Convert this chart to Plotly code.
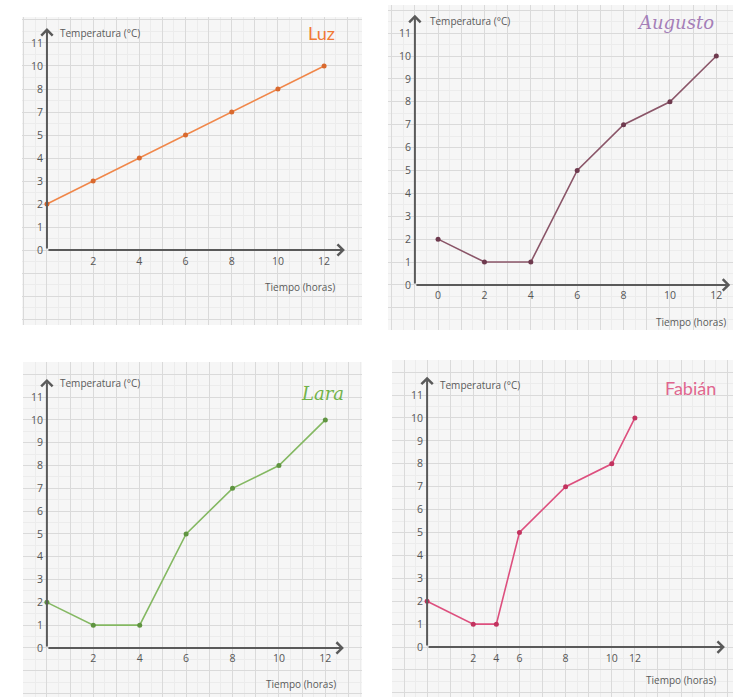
import plotly.graph_objects as go

# ---------------- data ----------------
horas = [0, 2, 4, 6, 8, 10, 12]
luz_temp = ["2", "3", "4", "5", "7", "8", "10"]
luz_y_labels = ["0", "1", "2", "3", "4", "5", "7", "8", "10", "11"]
augusto_temp = [2, 1, 1, 5, 7, 8, 10]
lara_temp = [2, 1, 1, 5, 7, 8, 10]
fabian_horas = ["0", "2", "4", "6", "8", "10", "12"]
fabian_temp = [2, 1, 1, 5, 7, 8, 10]
fabian_x_labels = ["0", " ", "2", "4", "6", "  ", "8", "   ", "10", "12"]
y_ticks = list(range(0, 12))
x_ticks = [2, 4, 6, 8, 10, 12]
augusto_x_ticks = [0, 2, 4, 6, 8, 10, 12]

W, H = 738, 698
GRID = "#dadada"
MINOR = "#ececec"
AXIS = "#5a5a5a"
TICKFONT = dict(family="Open Sans", size=10.5, color="#555555")
LABELFONT = dict(family="Open Sans", size=10, color="#5a5a5a")


def fx(p):
    return p / W


def fy(p):
    return 1 - p / H


fig = go.Figure()
layout = dict(width=W, height=H, margin=dict(l=0, r=0, t=0, b=0),
              paper_bgcolor="white", plot_bgcolor="#f6f6f6",
              showlegend=False, annotations=[])

panels = [
    dict(name="Luz", box=(22, 362, 17, 325), xr=[-1.08, 13.64], yr=[-3.26, 10.13],
         yline=0, xstart=0, xtip=12.9, ytip=9.65,
         color="#f0874a", mcolor="#d9692e",
         title="Luz", tcol="#f07a36", tpos=(321, 33), tfont="Lato", titalic=False,
         temp_lab=(58, 33), time_lab=(300, 287)),
    dict(name="Augusto", box=(388, 733, 5, 330), xr=[-2.16, 12.72], yr=[-1.97, 12.23],
         yline=-1, xstart=-1, xtip=12.6, ytip=11.8,
         color="#8a5568", mcolor="#6e3a4e",
         title="Augusto", tcol="#a57fb8", tpos=(675, 22), tfont="DejaVu Serif", titalic=True,
         temp_lab=(428, 21), time_lab=(691, 322)),
    dict(name="Lara", box=(23, 362, 362, 697), xr=[-1.03, 13.58], yr=[-2.15, 12.54],
         yline=0, xstart=0, xtip=12.8, ytip=11.8,
         color="#84b862", mcolor="#5f9440",
         title="Lara", tcol="#72b34a", tpos=(322, 393), tfont="DejaVu Serif", titalic=True,
         temp_lab=(58, 383), time_lab=(301, 684)),
    dict(name="Fabián", box=(392, 733, 360, 697), xr=[-1.52, 13.25], yr=[-2.18, 12.53],
         yline=0, xstart=0, xtip=12.9, ytip=11.8,
         color="#dd4f7e", mcolor="#c2335f",
         title="Fabián", tcol="#e0668f", tpos=(690, 388), tfont="Lato", titalic=False,
         temp_lab=(438, 385), time_lab=(681, 680)),
]

for i, p in enumerate(panels):
    g = 2 * i + 1   # grid axes id
    d = 2 * i + 2   # data axes id
    gx = "x" if g == 1 else f"x{g}"
    gy = "y" if g == 1 else f"y{g}"
    gxk = "xaxis" if g == 1 else f"xaxis{g}"
    gyk = "yaxis" if g == 1 else f"yaxis{g}"
    dxk, dyk = f"xaxis{d}", f"yaxis{d}"
    x0, x1, y0, y1 = p["box"]
    xdom = [fx(x0), fx(x1)]
    ydom = [fy(y1), fy(y0)]
    xr, yr = p["xr"], p["yr"]

    # grid (graph paper) axes
    layout[gxk] = dict(domain=xdom, range=xr, anchor=gy, showgrid=True, gridcolor=GRID,
                       gridwidth=1, dtick=1, tick0=0, showticklabels=False, ticks="",
                       zeroline=False, showline=False, fixedrange=True,
                       minor=dict(dtick=0.5, tick0=0, showgrid=True, gridcolor=MINOR, gridwidth=1))
    layout[gyk] = dict(domain=ydom, range=yr, anchor=gx, showgrid=True, gridcolor=GRID,
                       gridwidth=1, dtick=1, tick0=0, showticklabels=False, ticks="",
                       zeroline=False, showline=False, fixedrange=True,
                       minor=dict(dtick=0.5, tick0=0, showgrid=True, gridcolor=MINOR, gridwidth=1))

    # positions of the drawn axes (paper fraction)
    xpos_y = ydom[0] + (0 - yr[0]) / (yr[1] - yr[0]) * (ydom[1] - ydom[0])
    ypos_x = xdom[0] + (p["yline"] - xr[0]) / (xr[1] - xr[0]) * (xdom[1] - xdom[0])

    xa = dict(overlaying=gx, range=xr, anchor="free", position=xpos_y, showgrid=False,
              zeroline=False, showline=False, ticks="", tickfont=TICKFONT,
              ticklabelstandoff=3, fixedrange=True)
    ya = dict(overlaying=gy, range=yr, anchor="free", position=ypos_x, side="left",
              showgrid=False, zeroline=False, showline=False, ticks="", tickfont=TICKFONT,
              ticklabelstandoff=4, fixedrange=True)

    if p["name"] == "Luz":
        xa.update(tickmode="array", tickvals=x_ticks)
        ya.update(type="category", categoryorder="array", categoryarray=luz_y_labels)
        xs, ys = horas, luz_temp
    elif p["name"] == "Augusto":
        xa.update(tickmode="array", tickvals=augusto_x_ticks)
        ya.update(tickmode="array", tickvals=y_ticks)
        xs, ys = horas, augusto_temp
    elif p["name"] == "Lara":
        xa.update(tickmode="array", tickvals=x_ticks)
        ya.update(tickmode="array", tickvals=y_ticks)
        xs, ys = horas, lara_temp
    else:
        xa.update(type="category", categoryorder="array", categoryarray=fabian_x_labels,
                  tickmode="array", tickvals=fabian_horas[1:], ticktext=fabian_horas[1:])
        ya.update(tickmode="array", tickvals=y_ticks)
        xs, ys = fabian_horas, fabian_temp

    layout[dxk] = xa
    layout[dyk] = ya

    # an invisible trace on the grid subplot so it exists
    fig.add_trace(go.Scatter(x=[xr[0]], y=[yr[0]], xaxis=gx, yaxis=gy, mode="markers",
                             marker=dict(size=1, color="rgba(0,0,0,0)"), hoverinfo="skip"))
    fig.add_trace(go.Scatter(x=xs, y=ys, xaxis=f"x{d}", yaxis=f"y{d}", mode="lines+markers",
                             name=p["name"], line=dict(color=p["color"], width=1.6),
                             marker=dict(size=5, color=p["mcolor"])))

    # axes with arrow heads
    layout["annotations"].append(dict(x=p["xtip"], y=0, ax=p["xstart"], ay=0, xref=gx, yref=gy,
                                      axref=gx, ayref=gy, showarrow=True, arrowhead=4,
                                      arrowsize=1.1, arrowwidth=2, arrowcolor=AXIS, text=""))
    layout["annotations"].append(dict(x=p["yline"], y=p["ytip"], ax=p["yline"], ay=0, xref=gx, yref=gy,
                                      axref=gx, ayref=gy, showarrow=True, arrowhead=4,
                                      arrowsize=1.1, arrowwidth=2, arrowcolor=AXIS, text=""))

    # texts
    layout["annotations"].append(dict(x=fx(p["temp_lab"][0]), y=fy(p["temp_lab"][1]), xref="paper",
                                      yref="paper", xanchor="left", yanchor="middle", showarrow=False,
                                      text="Temperatura (°C)", font=LABELFONT))
    layout["annotations"].append(dict(x=fx(p["time_lab"][0]), y=fy(p["time_lab"][1]), xref="paper",
                                      yref="paper", xanchor="center", yanchor="middle", showarrow=False,
                                      text="Tiempo (horas)", font=LABELFONT))
    ttext = f"<i>{p['title']}</i>" if p["titalic"] else p["title"]
    layout["annotations"].append(dict(x=fx(p["tpos"][0]), y=fy(p["tpos"][1]), xref="paper",
                                      yref="paper", xanchor="center", yanchor="middle", showarrow=False,
                                      text=ttext, font=dict(family=p["tfont"], size=18, color=p["tcol"])))

fig.update_layout(**layout)
fig.write_html("out.html", config={"displayModeBar": False},
               post_script="document.body.style.margin='0';document.body.style.overflow='hidden';")
